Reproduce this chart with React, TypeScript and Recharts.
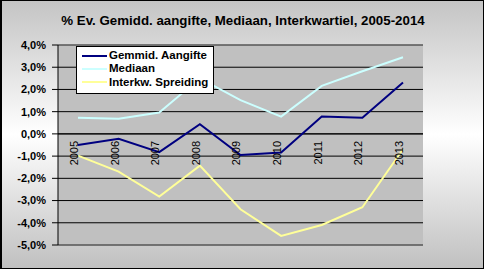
import {
  CartesianGrid,
  LabelList,
  Legend,
  Line,
  LineChart,
  ReferenceLine,
  XAxis,
  YAxis,
} from "recharts";

const years = ["2005", "2006", "2007", "2008", "2009", "2010", "2011", "2012", "2013"];
const gemmid = [-0.5, -0.22, -0.82, 0.44, -0.95, -0.84, 0.78, 0.73, 2.31];
const mediaan = [0.73, 0.68, 0.96, 2.5, 1.52, 0.78, 2.16, 2.82, 3.45];
const spreiding = [-0.98, -1.7, -2.82, -1.43, -3.39, -4.59, -4.1, -3.3, -0.69];
const yTicks = [-5, -4, -3, -2, -1, 0, 1, 2, 3, 4];

const series = [
  { key: "gemmid", name: "Gemmid. Aangifte", color: "#000080" },
  { key: "mediaan", name: "Mediaan", color: "#ccffff" },
  { key: "spreiding", name: "Interkw. Spreiding", color: "#ffff99" },
];

const data = years.map((year, i) => ({
  year,
  gemmid: gemmid[i],
  mediaan: mediaan[i],
  spreiding: spreiding[i],
  zero: 0,
}));

const font = "'Liberation Sans', Arial, sans-serif";

function LegendBox() {
  return (
    <div
      style={{
        width: 136,
        height: 44,
        background: "#fff",
        border: "1px solid #000",
        fontFamily: font,
        fontSize: 11.5,
        fontWeight: "bold",
        lineHeight: "13.3px",
        paddingTop: 2,
        boxSizing: "content-box",
      }}
    >
      {series.map((s) => (
        <div key={s.key} style={{ display: "flex", alignItems: "center", height: 13.3 }}>
          <span
            style={{
              display: "inline-block",
              width: 25,
              height: 2,
              background: s.color,
              marginLeft: 5,
              marginRight: 2,
            }}
          />
          <span>{s.name}</span>
        </div>
      ))}
    </div>
  );
}

function YearLabel(props: any) {
  const { value, viewBox } = props;
  const px = viewBox && viewBox.x != null ? viewBox.x : props.x;
  const py = viewBox && viewBox.y != null ? viewBox.y : props.y;
  const bx = px;
  const by = py + 7;
  return (
    <text
      x={bx}
      y={by}
      transform={`rotate(-90 ${bx} ${by})`}
      textAnchor="end"
      fontFamily={font}
      fontSize={11}
      fill="#000"
    >
      {value}
    </text>
  );
}

export default function App() {
  return (
    <div
      style={{
        position: "fixed",
        top: 0,
        left: 0,
        width: 484,
        height: 269,
        boxSizing: "border-box",
        border: "1px solid #000",
        borderLeftWidth: 2,
        background: "linear-gradient(to bottom, #c4c4c4 0%, #ffffff 50%, #c0c0c0 100%)",
        overflow: "hidden",
      }}
    >
      <div
        style={{
          position: "absolute",
          top: 12,
          left: 0,
          width: 482,
          textAlign: "center",
          fontFamily: font,
          fontWeight: "bold",
          fontSize: 13.3,
          color: "#000",
        }}
      >
        % Ev. Gemidd. aangifte, Mediaan, Interkwartiel, 2005-2014
      </div>
      <div style={{ position: "absolute", top: -1, left: -2 }}>
        <LineChart
          width={484}
          height={269}
          data={data}
          margin={{ top: 45, right: 61, left: 0, bottom: 24 }}
        >
          <CartesianGrid vertical={false} stroke="#000" fill="#c0c0c0" fillOpacity={1} />
          <ReferenceLine y={4} stroke="#808080" />
          <ReferenceLine y={-5} stroke="#808080" />
          <XAxis dataKey="year" hide padding={{ left: 20, right: 20 }} />
          <YAxis
            width={58}
            domain={[-5, 4]}
            ticks={yTicks}
            interval={0}
            axisLine={{ stroke: "#000" }}
            tickLine={{ stroke: "#000" }}
            tickSize={6}
            tickMargin={6}
            tick={{ fill: "#000", fontFamily: font, fontSize: 11, fontWeight: "bold" }}
            tickFormatter={(v: number) => `${v.toFixed(1).replace(".", ",")}%`}
          />
          <YAxis
            yAxisId="border"
            orientation="right"
            width={0}
            domain={[-5, 4]}
            axisLine={{ stroke: "#808080" }}
            tick={false}
            tickLine={false}
          />
          <ReferenceLine y={0} stroke="#000" />
          <Line
            dataKey="zero"
            stroke="none"
            dot={false}
            activeDot={false}
            legendType="none"
            isAnimationActive={false}
          >
            <LabelList dataKey="year" content={YearLabel} />
          </Line>
          {series
            .slice()
            .reverse()
            .map((s) => (
              <Line
                key={s.key}
                dataKey={s.key}
                name={s.name}
                stroke={s.color}
                strokeWidth={2}
                dot={false}
                activeDot={false}
                isAnimationActive={false}
              />
            ))}
          <Legend
            layout="vertical"
            align="center"
            verticalAlign="middle"
            content={() => <LegendBox />}
            wrapperStyle={{ position: "absolute", left: 76, top: 46, width: "auto" }}
          />
        </LineChart>
      </div>
    </div>
  );
}
